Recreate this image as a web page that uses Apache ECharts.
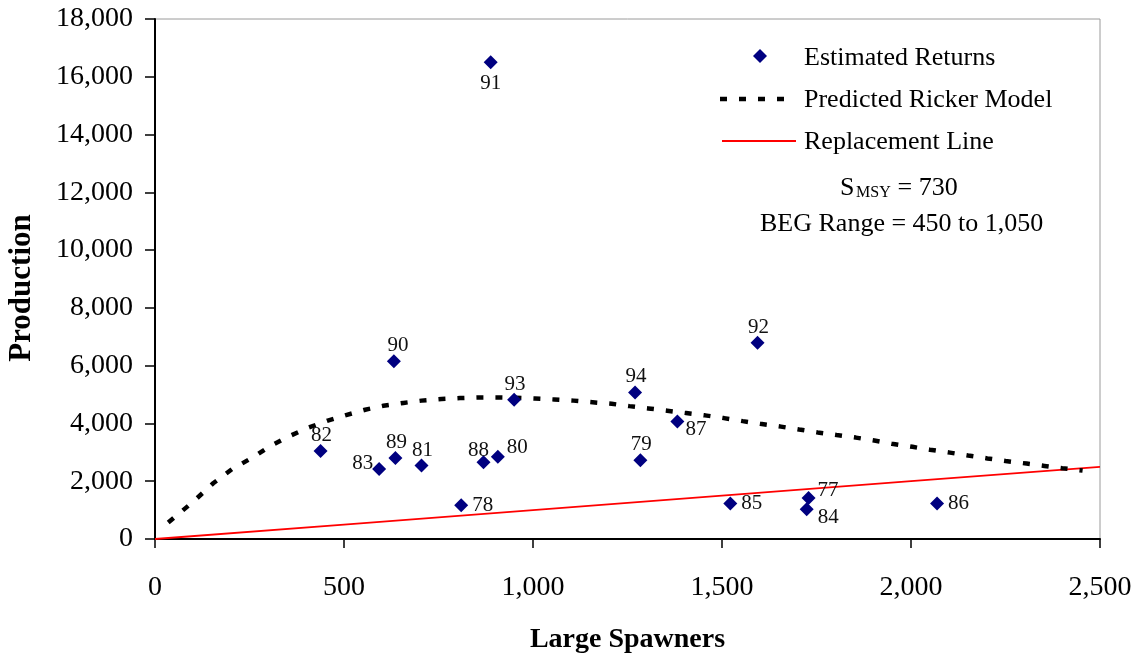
<!DOCTYPE html>
<html>
<head>
<meta charset="utf-8">
<script src="https://cdn.jsdelivr.net/npm/echarts@6/dist/echarts.min.js"></script>
<style>html,body{margin:0;padding:0;background:#fff}#c{width:1135px;height:654px}</style>
</head>
<body>
<div id="c"></div>
<script>
// Brood years (labels) with spawners and estimated returns
var years    = ['77','78','79','80','81','82','83','84','85','86','87','88','89','90','91','92','93','94'];
var spawners = [1729, 810, 1284, 907, 705, 438, 593, 1724, 1522, 2069, 1382, 869, 636, 632, 888, 1594, 950, 1270];
var returns  = [1420, 1170, 2730, 2850, 2540, 3050, 2420, 1030, 1225, 1225, 4070, 2660, 2800, 6150, 16500, 6790, 4820, 5075];

// Predicted Ricker model curve
var rickerS = [35, 101, 154, 204, 258, 306, 354, 405, 457, 503, 556, 604, 657, 705, 758, 807, 855, 904, 955, 1005, 1056, 1107, 1151, 1208, 1255, 1305, 1355, 1405, 1455, 1505, 1555, 1601, 1656, 1704, 1753, 1803, 1854, 1903, 1949, 2004, 2050, 2103, 2151, 2202, 2250, 2306, 2353, 2400, 2454];
var rickerR = [570, 1290, 1930, 2420, 2820, 3230, 3550, 3850, 4100, 4280, 4475, 4610, 4710, 4790, 4845, 4880, 4900, 4900, 4890, 4865, 4830, 4790, 4740, 4680, 4600, 4520, 4440, 4360, 4280, 4185, 4080, 3990, 3890, 3790, 3690, 3600, 3510, 3410, 3300, 3190, 3090, 2990, 2890, 2790, 2700, 2610, 2530, 2450, 2370];

// Replacement line (returns = spawners)
var replS = [0, 500, 1000, 1500, 2000, 2500];
var replR = [0, 500, 1000, 1500, 2000, 2500];

var xTicks = [0, 500, 1000, 1500, 2000, 2500];
var yTicks = [0, 2000, 4000, 6000, 8000, 10000, 12000, 14000, 16000, 18000];

var seriesNames = ['Estimated Returns', 'Predicted Ricker Model', 'Replacement Line'];
var axisTitles = ['Large Spawners', 'Production'];
var noteLines = ['BEG Range = 450 to 1,050'];

// label placement per year
var labelPos = {
  '91': {position: 'bottom', distance: 4, offset: [0, 0]},
  '83': {position: 'left', distance: 4, offset: [5, -6]},
  '88': {position: 'top', offset: [-5, 6]},
  '80': {position: 'right', distance: 4, offset: [-2, -9]},
  '78': {position: 'right', distance: 4, offset: [0, 0]},
  '87': {position: 'right', distance: 4, offset: [-3, 8]},
  '85': {position: 'right', distance: 4, offset: [0, 0]},
  '77': {position: 'right', distance: 4, offset: [-2, -7]},
  '84': {position: 'right', distance: 4, offset: [0, 8]},
  '86': {position: 'right', distance: 4, offset: [0, 0]},
  '90': {position: 'top', offset: [4, 2]}
};

var FONT = '"Liberation Serif", "Times New Roman", serif';
var NAVY = '#000080';

var scatterData = years.map(function (y, i) {
  var lp = labelPos[y] || {position: 'top', offset: [1, 2]};
  return {name: y, value: [spawners[i], returns[i]], label: lp};
});

function fmt(v) { return v.toLocaleString('en-US'); }

var chart = echarts.init(document.getElementById('c'), null, {renderer: 'canvas'});
chart.setOption({
  backgroundColor: '#fff',
  animation: false,
  textStyle: {fontFamily: FONT},
  grid: {left: 155, right: 35, top: 19, bottom: 115, show: true, borderColor: '#9a9a9a', borderWidth: 1,
         containLabel: false, outerBoundsMode: 'none'},
  legend: {show: false},
  xAxis: {
    type: 'value', min: 0, max: 2500, interval: 500,
    name: axisTitles[0], nameLocation: 'middle', nameGap: 87,
    nameTextStyle: {fontFamily: FONT, fontSize: 28, fontWeight: 'bold', color: '#000'},
    axisLine: {show: true, onZero: false, lineStyle: {color: '#000', width: 2}},
    axisTick: {show: true, length: 9, lineStyle: {color: '#000', width: 1.5}},
    axisLabel: {fontFamily: FONT, fontSize: 28, color: '#000', margin: 35, formatter: fmt},
    splitLine: {show: false}
  },
  yAxis: {
    type: 'value', min: 0, max: 18000, interval: 2000,
    axisLine: {show: true, lineStyle: {color: '#000', width: 2}},
    axisTick: {show: true, length: 10, lineStyle: {color: '#000', width: 1.5}},
    axisLabel: {fontFamily: FONT, fontSize: 28, color: '#000', margin: 22, formatter: fmt},
    splitLine: {show: false}
  },
  series: [
    {
      name: seriesNames[0], type: 'scatter', symbol: 'diamond', symbolSize: 14, z: 5,
      itemStyle: {color: NAVY, opacity: 1},
      label: {show: true, formatter: '{b}', fontFamily: FONT, fontSize: 21, color: '#111', distance: 0},
      data: scatterData
    },
    {
      name: seriesNames[1], type: 'line', symbol: 'none', smooth: false, z: 3,
      lineStyle: {color: '#000', width: 4.5, type: [7, 12]},
      itemStyle: {color: '#000'},
      data: rickerS.map(function (s, i) { return [s, rickerR[i]]; })
    },
    {
      name: seriesNames[2], type: 'line', symbol: 'none', z: 2,
      lineStyle: {color: '#ff0000', width: 1.8},
      itemStyle: {color: '#ff0000'},
      data: replS.map(function (s, i) { return [s, replR[i]]; })
    }
  ],
  graphic: [
    // y axis title
    {type: 'text', x: 22, y: 288, rotation: Math.PI / 2,
     style: {text: axisTitles[1], fontFamily: FONT, fontSize: 31, fontWeight: 'bold', fill: '#000', align: 'center', verticalAlign: 'middle'}},
    // legend
    {type: 'polygon', shape: {points: [[760, 49], [767, 56], [760, 63], [753, 56]]}, style: {fill: NAVY}},
    {type: 'text', left: 804, top: 45, style: {text: seriesNames[0], fontFamily: FONT, fontSize: 26, fill: '#000'}},
    {type: 'line', shape: {x1: 720, y1: 99, x2: 796, y2: 99}, style: {stroke: '#000', lineWidth: 4.5, lineDash: [7, 12]}},
    {type: 'text', left: 804, top: 87, style: {text: seriesNames[1], fontFamily: FONT, fontSize: 26, fill: '#000'}},
    {type: 'line', shape: {x1: 722, y1: 141, x2: 796, y2: 141}, style: {stroke: '#ff0000', lineWidth: 1.8}},
    {type: 'text', left: 804, top: 129, style: {text: seriesNames[2], fontFamily: FONT, fontSize: 26, fill: '#000'}},
    // notes
    {type: 'text', left: 840, top: 175, style: {text: 'S', fontFamily: FONT, fontSize: 26, fill: '#000'}},
    {type: 'text', left: 856, top: 185, style: {text: 'MSY', fontFamily: FONT, fontSize: 16, fill: '#000'}},
    {type: 'text', left: 891, top: 175, style: {text: ' = 730', fontFamily: FONT, fontSize: 26, fill: '#000'}},
    {type: 'text', left: 760, top: 211, style: {text: noteLines[0], fontFamily: FONT, fontSize: 26, fill: '#000'}}
  ]
});
</script>
</body>
</html>
